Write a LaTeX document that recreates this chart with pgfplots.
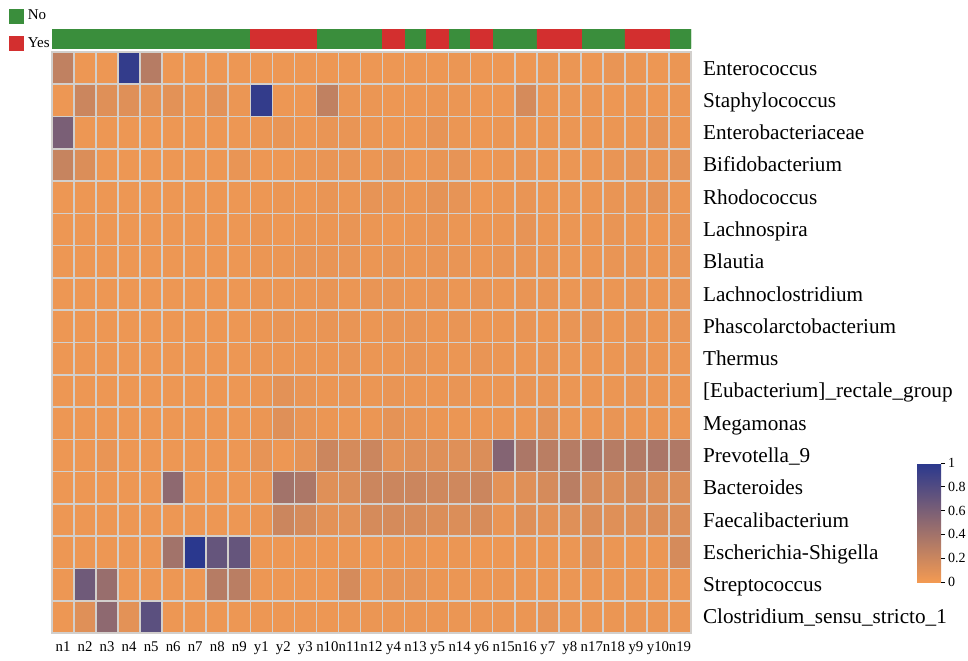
\documentclass[border=0pt]{standalone}
\usepackage{fontspec}
\setmainfont{Liberation Serif}
\usepackage{pgfplots}
\pgfplotsset{compat=1.18}

\definecolor{grpno}{RGB}{58,142,60}
\definecolor{grpyes}{RGB}{211,47,47}
\definecolor{cellgrid}{RGB}{210,207,204}

\pgfplotsset{
  grpbar/.style={legend image code/.code={\fill[##1] (0pt,-3.5pt) rectangle (7pt,3.5pt);}},
}

\begin{document}
\begin{tikzpicture}
\path[use as bounding box] (-26pt,-13.5pt) rectangle (458pt,316.5pt);

% heatmap, rows top to bottom
\begin{axis}[
  name=main,
  scale only axis,
  width=319.5pt, height=290.5pt,
  xmin=-0.5, xmax=28.5, ymin=-0.5, ymax=17.5,
  y dir=reverse,
  enlargelimits=false,
  xtick={0,...,28},
  xticklabels={n1,n2,n3,n4,n5,n6,n7,n8,n9,y1,y2,y3,n10,n11,n12,y4,n13,y5,n14,y6,n15,n16,y7,y8,n17,n18,y9,y10,n19},
  ytick={0,...,17},
  yticklabels={Enterococcus,Staphylococcus,Enterobacteriaceae,Bifidobacterium,Rhodococcus,Lachnospira,Blautia,Lachnoclostridium,Phascolarctobacterium,Thermus,{[Eubacterium]\_rectale\_group},Megamonas,Prevotella\_9,Bacteroides,Faecalibacterium,Escherichia-Shigella,Streptococcus,Clostridium\_sensu\_stricto\_1},
  yticklabel pos=right,
  minor xtick={-0.5,0.5,...,28.5},
  minor ytick={-0.5,0.5,...,17.5},
  xminorgrids, yminorgrids,
  minor grid style={draw=cellgrid, line width=0.8pt},
  major tick length=0pt, minor tick length=0pt,
  axis line style={draw=cellgrid, line width=0.8pt},
  axis on top,
  xticklabel style={font=\fontsize{7.4}{8}\selectfont, text height=5.5pt, text depth=1.5pt},
  yticklabel style={font=\fontsize{10.6}{12}\selectfont, anchor=west, xshift=2.5pt,
    text height=9.5pt, text depth=2.5pt},
  colormap={heat}{rgb255=(243,154,82) rgb255=(42,56,142)},
  point meta min=0, point meta max=1,
  colorbar,
  colorbar style={
    at={(parent axis.south east)}, anchor=south west,
    xshift=104.5pt, yshift=25.5pt,
    scale only axis, width=12pt, height=59.5pt,
    ytick={0,0.2,0.4,0.6,0.8,1},
    ytick pos=right,
    axis line style={draw=none},
    tick align=outside,
    major tick length=2pt,
    major tick style={black, line width=0.4pt},
    yticklabel style={font=\fontsize{7}{8}\selectfont, xshift=-2pt},
    /pgf/number format/assume math mode=true,
  },
]
\addplot[matrix plot*, mesh/cols=29, point meta=\thisrow{c}]
  table[row sep=\\,
    y expr={floor((\coordindex+0.5)/29)},
    x expr={\coordindex-29*floor((\coordindex+0.5)/29)}] {
c\\
0.25\\ 0.03\\ 0.03\\ 0.95\\ 0.30\\ 0.03\\ 0.03\\ 0.03\\ 0.03\\ 0.03\\ 0.03\\ 0.03\\ 0.03\\ 0.03\\ 0.03\\ 0.03\\ 0.03\\ 0.03\\ 0.04\\ 0.03\\ 0.03\\ 0.03\\ 0.04\\ 0.04\\ 0.03\\ 0.05\\ 0.04\\ 0.03\\ 0.04\\
0.03\\ 0.20\\ 0.10\\ 0.10\\ 0.07\\ 0.08\\ 0.04\\ 0.08\\ 0.04\\ 0.95\\ 0.03\\ 0.03\\ 0.25\\ 0.04\\ 0.04\\ 0.03\\ 0.03\\ 0.04\\ 0.04\\ 0.03\\ 0.03\\ 0.15\\ 0.04\\ 0.04\\ 0.04\\ 0.03\\ 0.04\\ 0.03\\ 0.04\\
0.60\\ 0.03\\ 0.03\\ 0.03\\ 0.03\\ 0.03\\ 0.03\\ 0.03\\ 0.03\\ 0.04\\ 0.05\\ 0.03\\ 0.05\\ 0.05\\ 0.04\\ 0.03\\ 0.03\\ 0.06\\ 0.04\\ 0.03\\ 0.04\\ 0.04\\ 0.04\\ 0.04\\ 0.04\\ 0.04\\ 0.04\\ 0.06\\ 0.04\\
0.22\\ 0.12\\ 0.03\\ 0.03\\ 0.03\\ 0.03\\ 0.03\\ 0.03\\ 0.05\\ 0.03\\ 0.03\\ 0.04\\ 0.05\\ 0.05\\ 0.04\\ 0.06\\ 0.03\\ 0.05\\ 0.06\\ 0.03\\ 0.04\\ 0.05\\ 0.04\\ 0.04\\ 0.04\\ 0.05\\ 0.06\\ 0.05\\ 0.07\\
0.03\\ 0.03\\ 0.03\\ 0.03\\ 0.03\\ 0.03\\ 0.03\\ 0.03\\ 0.03\\ 0.03\\ 0.04\\ 0.03\\ 0.05\\ 0.04\\ 0.06\\ 0.05\\ 0.04\\ 0.07\\ 0.06\\ 0.03\\ 0.04\\ 0.05\\ 0.04\\ 0.04\\ 0.04\\ 0.05\\ 0.05\\ 0.07\\ 0.04\\
0.03\\ 0.03\\ 0.03\\ 0.03\\ 0.03\\ 0.03\\ 0.03\\ 0.03\\ 0.03\\ 0.04\\ 0.03\\ 0.04\\ 0.04\\ 0.05\\ 0.04\\ 0.03\\ 0.04\\ 0.05\\ 0.04\\ 0.04\\ 0.04\\ 0.06\\ 0.04\\ 0.04\\ 0.04\\ 0.05\\ 0.04\\ 0.03\\ 0.05\\
0.03\\ 0.03\\ 0.03\\ 0.03\\ 0.03\\ 0.03\\ 0.03\\ 0.03\\ 0.03\\ 0.04\\ 0.04\\ 0.05\\ 0.05\\ 0.05\\ 0.04\\ 0.05\\ 0.04\\ 0.05\\ 0.05\\ 0.04\\ 0.05\\ 0.05\\ 0.05\\ 0.04\\ 0.04\\ 0.05\\ 0.05\\ 0.04\\ 0.05\\
0.03\\ 0.03\\ 0.03\\ 0.03\\ 0.03\\ 0.03\\ 0.03\\ 0.03\\ 0.03\\ 0.04\\ 0.04\\ 0.04\\ 0.05\\ 0.04\\ 0.05\\ 0.05\\ 0.04\\ 0.05\\ 0.04\\ 0.05\\ 0.04\\ 0.05\\ 0.05\\ 0.04\\ 0.05\\ 0.04\\ 0.05\\ 0.04\\ 0.05\\
0.03\\ 0.03\\ 0.03\\ 0.03\\ 0.03\\ 0.03\\ 0.03\\ 0.03\\ 0.03\\ 0.04\\ 0.05\\ 0.04\\ 0.05\\ 0.05\\ 0.04\\ 0.05\\ 0.05\\ 0.04\\ 0.05\\ 0.04\\ 0.04\\ 0.05\\ 0.04\\ 0.05\\ 0.06\\ 0.04\\ 0.05\\ 0.04\\ 0.05\\
0.03\\ 0.03\\ 0.03\\ 0.03\\ 0.03\\ 0.03\\ 0.03\\ 0.03\\ 0.03\\ 0.04\\ 0.04\\ 0.04\\ 0.04\\ 0.05\\ 0.04\\ 0.04\\ 0.05\\ 0.04\\ 0.04\\ 0.05\\ 0.04\\ 0.04\\ 0.05\\ 0.04\\ 0.04\\ 0.04\\ 0.05\\ 0.04\\ 0.04\\
0.03\\ 0.03\\ 0.03\\ 0.03\\ 0.03\\ 0.03\\ 0.03\\ 0.03\\ 0.03\\ 0.04\\ 0.08\\ 0.05\\ 0.04\\ 0.05\\ 0.04\\ 0.05\\ 0.04\\ 0.04\\ 0.05\\ 0.04\\ 0.04\\ 0.05\\ 0.05\\ 0.04\\ 0.04\\ 0.04\\ 0.05\\ 0.04\\ 0.04\\
0.03\\ 0.03\\ 0.03\\ 0.03\\ 0.03\\ 0.03\\ 0.03\\ 0.03\\ 0.03\\ 0.04\\ 0.10\\ 0.05\\ 0.04\\ 0.04\\ 0.04\\ 0.07\\ 0.05\\ 0.04\\ 0.04\\ 0.04\\ 0.04\\ 0.04\\ 0.08\\ 0.04\\ 0.04\\ 0.05\\ 0.04\\ 0.04\\ 0.04\\
0.03\\ 0.03\\ 0.05\\ 0.03\\ 0.03\\ 0.03\\ 0.03\\ 0.03\\ 0.03\\ 0.06\\ 0.03\\ 0.07\\ 0.20\\ 0.15\\ 0.20\\ 0.08\\ 0.10\\ 0.10\\ 0.10\\ 0.12\\ 0.55\\ 0.35\\ 0.28\\ 0.30\\ 0.35\\ 0.30\\ 0.32\\ 0.36\\ 0.33\\
0.03\\ 0.03\\ 0.03\\ 0.03\\ 0.03\\ 0.50\\ 0.03\\ 0.03\\ 0.03\\ 0.04\\ 0.40\\ 0.35\\ 0.10\\ 0.12\\ 0.20\\ 0.20\\ 0.20\\ 0.18\\ 0.18\\ 0.20\\ 0.08\\ 0.10\\ 0.15\\ 0.28\\ 0.15\\ 0.12\\ 0.15\\ 0.12\\ 0.12\\
0.03\\ 0.03\\ 0.03\\ 0.03\\ 0.03\\ 0.03\\ 0.03\\ 0.03\\ 0.03\\ 0.04\\ 0.20\\ 0.15\\ 0.08\\ 0.08\\ 0.15\\ 0.15\\ 0.14\\ 0.12\\ 0.12\\ 0.14\\ 0.05\\ 0.10\\ 0.08\\ 0.10\\ 0.12\\ 0.10\\ 0.10\\ 0.12\\ 0.12\\
0.03\\ 0.03\\ 0.03\\ 0.03\\ 0.03\\ 0.40\\ 1.00\\ 0.70\\ 0.70\\ 0.03\\ 0.03\\ 0.03\\ 0.03\\ 0.04\\ 0.03\\ 0.04\\ 0.04\\ 0.03\\ 0.04\\ 0.03\\ 0.03\\ 0.04\\ 0.04\\ 0.04\\ 0.08\\ 0.04\\ 0.04\\ 0.04\\ 0.15\\
0.03\\ 0.65\\ 0.45\\ 0.03\\ 0.03\\ 0.03\\ 0.03\\ 0.30\\ 0.28\\ 0.03\\ 0.03\\ 0.03\\ 0.03\\ 0.15\\ 0.04\\ 0.06\\ 0.06\\ 0.04\\ 0.04\\ 0.04\\ 0.04\\ 0.04\\ 0.04\\ 0.04\\ 0.04\\ 0.04\\ 0.04\\ 0.04\\ 0.04\\
0.03\\ 0.10\\ 0.50\\ 0.08\\ 0.75\\ 0.03\\ 0.03\\ 0.03\\ 0.03\\ 0.03\\ 0.03\\ 0.03\\ 0.03\\ 0.04\\ 0.04\\ 0.04\\ 0.04\\ 0.04\\ 0.04\\ 0.04\\ 0.04\\ 0.04\\ 0.06\\ 0.04\\ 0.04\\ 0.04\\ 0.04\\ 0.04\\ 0.04\\
};
\end{axis}

% group bar above the heatmap
\begin{axis}[
  at={(main.north west)}, anchor=south west, yshift=2pt,
  scale only axis,
  width=319.5pt, height=9.5pt,
  xmin=-0.5, xmax=28.5, ymin=0, ymax=1,
  enlargelimits=false,
  hide axis,
  ybar, bar width=1, bar shift=0pt,
  legend style={at={(-0.0673,2.263)}, anchor=north west, draw=none, fill=none,
    font=\fontsize{7.5}{8}\selectfont, inner sep=0pt, row sep=3.5pt,
    cells={anchor=west}},
]
\addplot[fill=grpno, draw=grpno, line width=0.2pt, grpbar] coordinates {
  (0,1) (1,1) (2,1) (3,1) (4,1) (5,1) (6,1) (7,1) (8,1)
  (12,1) (13,1) (14,1) (16,1) (18,1) (20,1) (21,1) (24,1) (25,1) (28,1)
};
\addplot[fill=grpyes, draw=grpyes, line width=0.2pt, grpbar] coordinates {
  (9,1) (10,1) (11,1) (15,1) (17,1) (19,1) (22,1) (23,1) (26,1) (27,1)
};
\legend{No,Yes}
\end{axis}
\end{tikzpicture}
\end{document}
